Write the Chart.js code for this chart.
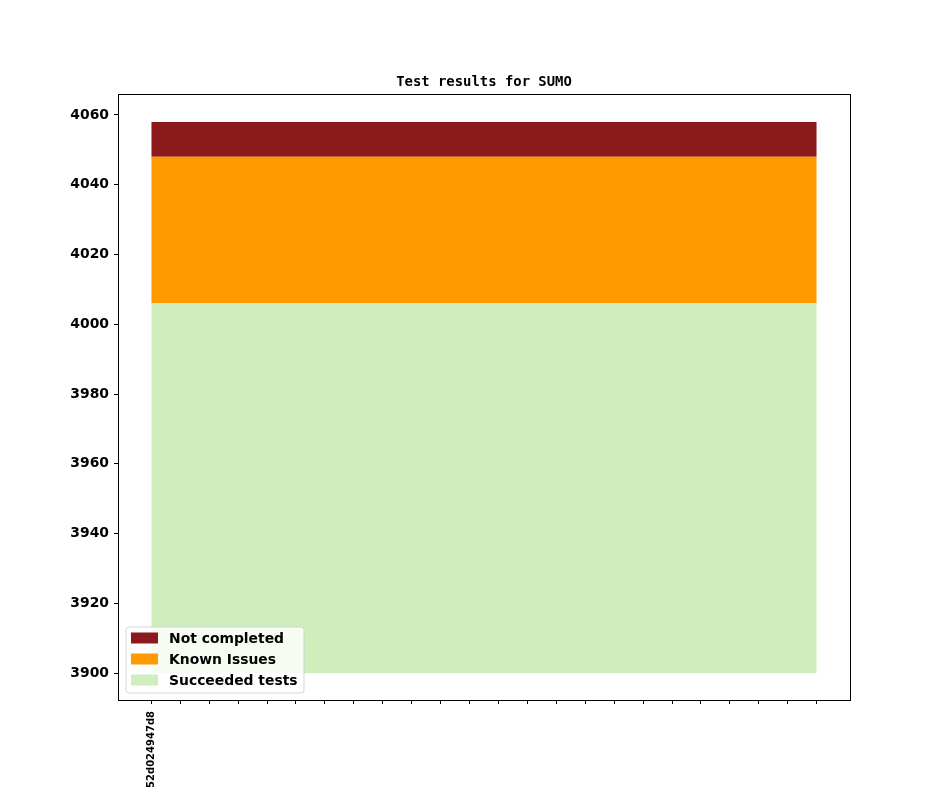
<!DOCTYPE html>
<html>
<head>
<meta charset="utf-8">
<script src="https://cdn.jsdelivr.net/npm/chart.js@4/dist/chart.umd.min.js"></script>
<style>
  html, body { margin: 0; padding: 0; background: #fff; }
  #wrap { width: 944px; height: 787px; }
</style>
</head>
<body>
<div id="wrap"><canvas id="chart" width="944" height="787"></canvas></div>
<script>
// ---- data ----
const commits = ["52d024947d8", "", "", "", "", "", "", "", "", "", "", "",
                 "", "", "", "", "", "", "", "", "", "", "", ""];
const succeeded = [4006, 4006, 4006, 4006, 4006, 4006, 4006, 4006, 4006, 4006, 4006, 4006,
                   4006, 4006, 4006, 4006, 4006, 4006, 4006, 4006, 4006, 4006, 4006, 4006];
const knownIssues = [42, 42, 42, 42, 42, 42, 42, 42, 42, 42, 42, 42,
                     42, 42, 42, 42, 42, 42, 42, 42, 42, 42, 42, 42];
const notCompleted = [10, 10, 10, 10, 10, 10, 10, 10, 10, 10, 10, 10,
                      10, 10, 10, 10, 10, 10, 10, 10, 10, 10, 10, 10];
const yTicks = [3900, 3920, 3940, 3960, 3980, 4000, 4020, 4040, 4060];
const fillBase = 3900;

const FONT = "'DejaVu Sans', sans-serif";

// stack the series on top of each other
const lvl1 = succeeded;
const lvl2 = lvl1.map((v, i) => v + knownIssues[i]);
const lvl3 = lvl2.map((v, i) => v + notCompleted[i]);
const pts = (arr) => arr.map((y, i) => ({ x: i, y: y }));

/* ---------- extra drawing: frame, title, legend ---------- */
const decor = {
  id: "decor",
  afterDraw(chart) {
    const ctx = chart.ctx;
    const a = chart.chartArea;
    ctx.save();
    ctx.strokeStyle = "#000";
    ctx.lineWidth = 1;
    ctx.strokeRect(Math.round(a.left) + 0.5, Math.round(a.top) + 0.5,
                   Math.round(a.right - a.left), Math.round(a.bottom - a.top));

    // title
    ctx.fillStyle = "#000";
    ctx.font = "bold 13.9px 'DejaVu Sans Mono', monospace";
    ctx.textAlign = "center";
    ctx.textBaseline = "alphabetic";
    ctx.fillText("Test results for SUMO", (a.left + a.right) / 2, 86);

    // legend (lower left, inside axes)
    const lx = 126, ly = 627, lw = 178, lh = 66, r = 3;
    ctx.beginPath();
    ctx.moveTo(lx + r, ly);
    ctx.arcTo(lx + lw, ly, lx + lw, ly + lh, r);
    ctx.arcTo(lx + lw, ly + lh, lx, ly + lh, r);
    ctx.arcTo(lx, ly + lh, lx, ly, r);
    ctx.arcTo(lx, ly, lx + lw, ly, r);
    ctx.closePath();
    ctx.fillStyle = "rgba(255,255,255,0.8)";
    ctx.fill();
    ctx.strokeStyle = "rgba(204,204,204,0.8)";
    ctx.stroke();

    const order = [2, 1, 0];
    ctx.font = "bold 13.9px " + FONT;
    ctx.textAlign = "left";
    ctx.textBaseline = "middle";
    order.forEach((di, row) => {
      const ds = chart.data.datasets[di];
      const cy = 638 + row * 21;
      ctx.fillStyle = ds.backgroundColor;
      ctx.fillRect(131, cy - 5.5, 27, 11);
      ctx.fillStyle = "#000";
      ctx.fillText(ds.label, 169, cy + 1);
    });
    ctx.restore();
  },
};

new Chart(document.getElementById("chart").getContext("2d"), {
  type: "line",
  data: {
    datasets: [
      {
        label: "Succeeded tests",
        data: pts(lvl1),
        backgroundColor: "#cfeebe",
        borderWidth: 0,
        pointRadius: 0,
        fill: { value: fillBase },
      },
      {
        label: "Known Issues",
        data: pts(lvl2),
        backgroundColor: "#ff9900",
        borderWidth: 0,
        pointRadius: 0,
        fill: "-1",
      },
      {
        label: "Not completed",
        data: pts(lvl3),
        backgroundColor: "#8b1a1c",
        borderWidth: 0,
        pointRadius: 0,
        fill: "-1",
      },
    ],
  },
  options: {
    responsive: false,
    animation: false,
    devicePixelRatio: 1,
    layout: { padding: { left: 0, top: 94, right: 94, bottom: 0 } },
    plugins: { legend: { display: false }, tooltip: { enabled: false }, title: { display: false } },
    elements: { line: { tension: 0 } },
    scales: {
      x: {
        type: "linear",
        min: -1.15,
        max: 24.15,
        afterBuildTicks: (s) => { s.ticks = commits.map((_, i) => ({ value: i })); },
        afterFit: (s) => { s.height = 87; },
        grid: { drawOnChartArea: false, drawTicks: true, tickLength: 4, color: "#000" },
        border: { display: true, color: "#000" },
        ticks: {
          autoSkip: false,
          minRotation: 90,
          maxRotation: 90,
          padding: 7,
          color: "#000",
          font: { family: FONT, size: 10, weight: "bold" },
          callback: (v) => commits[v] ?? "",
        },
      },
      y: {
        min: 3892.3,
        max: 4066,
        afterBuildTicks: (s) => { s.ticks = yTicks.map((v) => ({ value: v })); },
        afterFit: (s) => { s.width = 118; },
        grid: { drawOnChartArea: false, drawTicks: true, tickLength: 4, color: "#000" },
        border: { display: true, color: "#000" },
        ticks: {
          padding: 5,
          color: "#000",
          font: { family: FONT, size: 13.9, weight: "bold" },
          callback: (v) => String(v),
        },
      },
    },
  },
  plugins: [decor],
});
</script>
</body>
</html>
